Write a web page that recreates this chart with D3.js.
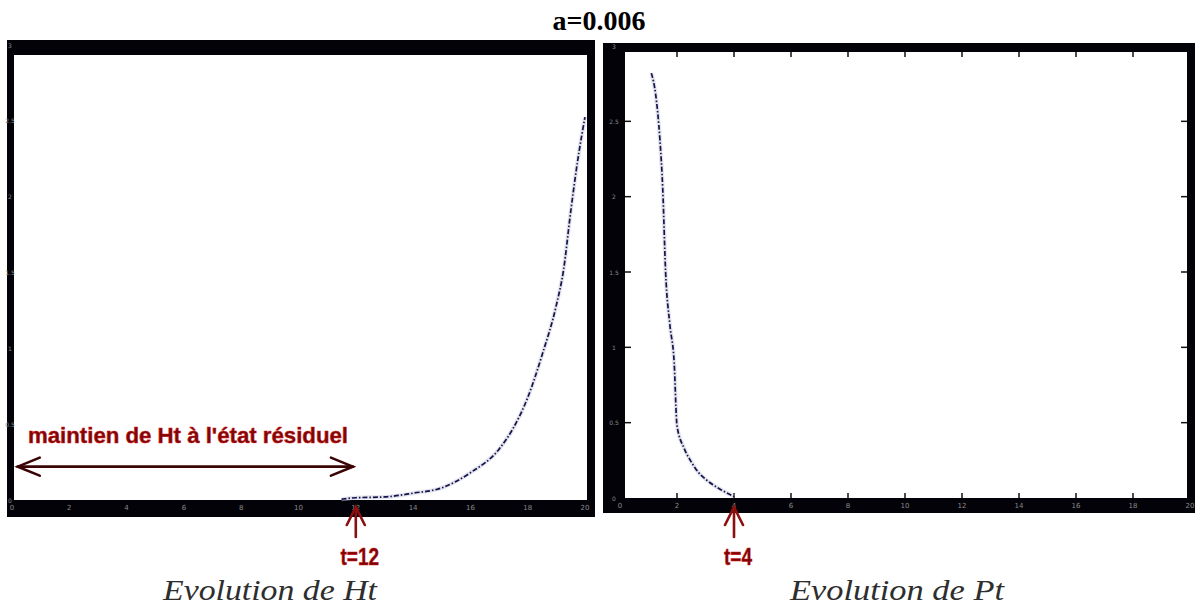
<!DOCTYPE html>
<html>
<head>
<meta charset="utf-8">
<script src="https://cdn.jsdelivr.net/npm/d3@7"></script>
<style>
  html, body { margin: 0; padding: 0; background: #fff; }
  svg { display: block; }
  .serif { font-family: "Liberation Serif", "Times New Roman", Times, serif; }
  .sans  { font-family: "Liberation Sans", Arial, Helvetica, sans-serif; }
</style>
</head>
<body>
<svg id="fig" width="1195" height="608"></svg>
<script>
// Time axis ticks shared by both panels
const timeTicks = [0, 2, 4, 6, 8, 10, 12, 14, 16, 18, 20];
const levelTicks = [0, 0.5, 1, 1.5, 2, 2.5, 3];

// Ht: stays residual until t=12, then grows quickly
const htTime  = [11.5, 12, 13, 14, 15, 16, 17, 17.5, 18, 18.5, 19, 19.25, 19.5, 19.75, 20];
const htValue = [0.005, 0.015, 0.02, 0.045, 0.08, 0.18, 0.335, 0.475, 0.675, 0.955, 1.285, 1.515, 1.9, 2.245, 2.525];

// Pt: collapses to zero by t=4
const ptTime  = [1.1, 1.25, 1.4, 1.5, 1.6, 1.75, 1.9, 2.0, 2.25, 2.5, 2.75, 3.0, 3.5, 4.0];
const ptValue = [2.82, 2.68, 2.38, 2.05, 1.5, 1.15, 0.9, 0.48, 0.33, 0.24, 0.17, 0.125, 0.06, 0.01];

const svg = d3.select("#fig");

// Title
svg.append("text")
  .attr("class", "serif")
  .attr("x", 599).attr("y", 30)
  .attr("text-anchor", "middle")
  .style("font-weight", "bold")
  .style("font-size", "28px")
  .text("a=0.006");

// One framed panel: black figure band around a white plot area
function panel(cfg) {
  const g = svg.append("g");
  g.append("rect")
    .attr("x", cfg.outer[0]).attr("y", cfg.outer[1])
    .attr("width", cfg.outer[2] - cfg.outer[0])
    .attr("height", cfg.outer[3] - cfg.outer[1])
    .attr("fill", "#020208");
  g.append("rect")
    .attr("x", cfg.inner[0]).attr("y", cfg.inner[1])
    .attr("width", cfg.inner[2] - cfg.inner[0])
    .attr("height", cfg.inner[3] - cfg.inner[1])
    .attr("fill", "#ffffff");

  const x = d3.scaleLinear().domain([0, 20]).range(cfg.xr);
  const y = d3.scaleLinear().domain([0, 3]).range(cfg.yr);

  // faint tick labels sitting in the dark band
  g.append("g").selectAll("text").data(timeTicks).join("text")
    .attr("x", d => x(d)).attr("y", cfg.inner[3] + 10)
    .attr("text-anchor", "middle")
    .style("font-family", "'DejaVu Sans', sans-serif")
    .style("font-size", "7px").attr("fill", "#8a8a8a")
    .text(d => d);
  g.append("g").selectAll("text").data(levelTicks).join("text")
    .attr("x", cfg.ylabX).attr("y", d => y(d) + 2.5)
    .attr("text-anchor", "middle")
    .style("font-family", "'DejaVu Sans', sans-serif")
    .style("font-size", "6px").attr("fill", "#8a8a8a")
    .text(d => d);

  if (cfg.innerTicks) {
    const tk = g.append("g").attr("stroke", "#111").attr("stroke-width", 1.5);
    levelTicks.slice(1, -1).forEach(v => {
      tk.append("line").attr("x1", cfg.inner[0]).attr("x2", cfg.inner[0] + 6)
        .attr("y1", y(v)).attr("y2", y(v));
      tk.append("line").attr("x1", cfg.inner[2]).attr("x2", cfg.inner[2] - 6)
        .attr("y1", y(v)).attr("y2", y(v));
    });
    timeTicks.slice(1, -1).forEach(t => {
      tk.append("line").attr("x1", x(t)).attr("x2", x(t))
        .attr("y1", cfg.inner[1]).attr("y2", cfg.inner[1] + 5);
      tk.append("line").attr("x1", x(t)).attr("x2", x(t))
        .attr("y1", cfg.inner[3]).attr("y2", cfg.inner[3] - 5);
    });
  }

  const line = d3.line()
    .x(d => x(d[0])).y(d => y(d[1]))
    .curve(d3.curveMonotoneX);
  const pts = d3.zip(cfg.t, cfg.v);
  g.append("path")
    .datum(pts)
    .attr("d", line)
    .attr("fill", "none")
    .attr("stroke", "#c8c8dc")
    .attr("stroke-width", 4)
    .attr("stroke-opacity", 0.5);
  g.append("path")
    .datum(pts)
    .attr("d", line)
    .attr("fill", "none")
    .attr("stroke", "#14144a")
    .attr("stroke-width", 1.7)
    .attr("stroke-dasharray", "5,2,1.5,2");

  return { g, x, y };
}

const left = panel({
  outer: [7, 40, 595, 517], inner: [14, 55, 587, 500],
  xr: [12, 585], yr: [500, 45], ylabX: 10,
  t: htTime, v: htValue, innerTicks: false
});
const right = panel({
  outer: [603, 43, 1195, 513], inner: [625, 52, 1187, 498],
  xr: [620, 1190], yr: [498, 46], ylabX: 614,
  t: ptTime, v: ptValue, innerTicks: true
});

const annFill = "#7a0606";
const annEdge = "#d01818";

// Residual-phase annotation on the Ht panel
const arrowY = left.y(0.22);
const xa0 = left.x(0.2), xa1 = left.x(11.9);
const dbl = left.g.append("g")
  .attr("fill", "none").attr("stroke", "#3a0404")
  .attr("stroke-width", 2.6).attr("stroke-linecap", "round");
dbl.append("line").attr("x1", xa0).attr("x2", xa1).attr("y1", arrowY).attr("y2", arrowY);
dbl.append("path").attr("d", `M${xa0 + 22},${arrowY - 9} L${xa0},${arrowY} L${xa0 + 22},${arrowY + 9}`);
dbl.append("path").attr("d", `M${xa1 - 22},${arrowY - 9} L${xa1},${arrowY} L${xa1 - 22},${arrowY + 9}`);

left.g.append("text")
  .attr("class", "sans")
  .attr("transform", `translate(28,443) scale(1,1.25)`)
  .attr("textLength", 320).attr("lengthAdjust", "spacingAndGlyphs")
  .style("font-weight", "bold").style("font-size", "17px")
  .attr("fill", annFill).attr("stroke", annEdge).attr("stroke-width", 0.4)
  .text("maintien de Ht à l'état résiduel");

// Upward arrows marking the switching times
function markTime(p, t, label) {
  const cx = p.x(t);
  const a = p.g.append("g").attr("fill", "none").attr("stroke", "#8a1010")
    .attr("stroke-width", 2.6).attr("stroke-linecap", "round");
  a.append("line").attr("x1", cx).attr("x2", cx).attr("y1", 537).attr("y2", 507);
  a.append("path").attr("d", `M${cx - 9},${525} L${cx},${507} L${cx + 9},${525}`);
  p.g.append("text")
    .attr("class", "sans")
    .attr("transform", `translate(${cx + 4},565) scale(1,1.3)`)
    .attr("text-anchor", "middle")
    .style("font-weight", "bold").style("font-size", "19px")
    .attr("fill", annFill).attr("stroke", annEdge).attr("stroke-width", 0.4)
    .text(label);
}
markTime(left, 12, "t=12");
markTime(right, 4, "t=4");

// Panel captions
[["Evolution de Ht", 163], ["Evolution de Pt", 790]].forEach(([txt, x0]) => {
  svg.append("text")
    .attr("class", "serif")
    .attr("x", x0).attr("y", 600)
    .attr("textLength", 214).attr("lengthAdjust", "spacingAndGlyphs")
    .style("font-style", "italic")
    .style("font-size", "30px")
    .attr("fill", "#2e2e2e")
    .text(txt);
});
</script>
</body>
</html>
